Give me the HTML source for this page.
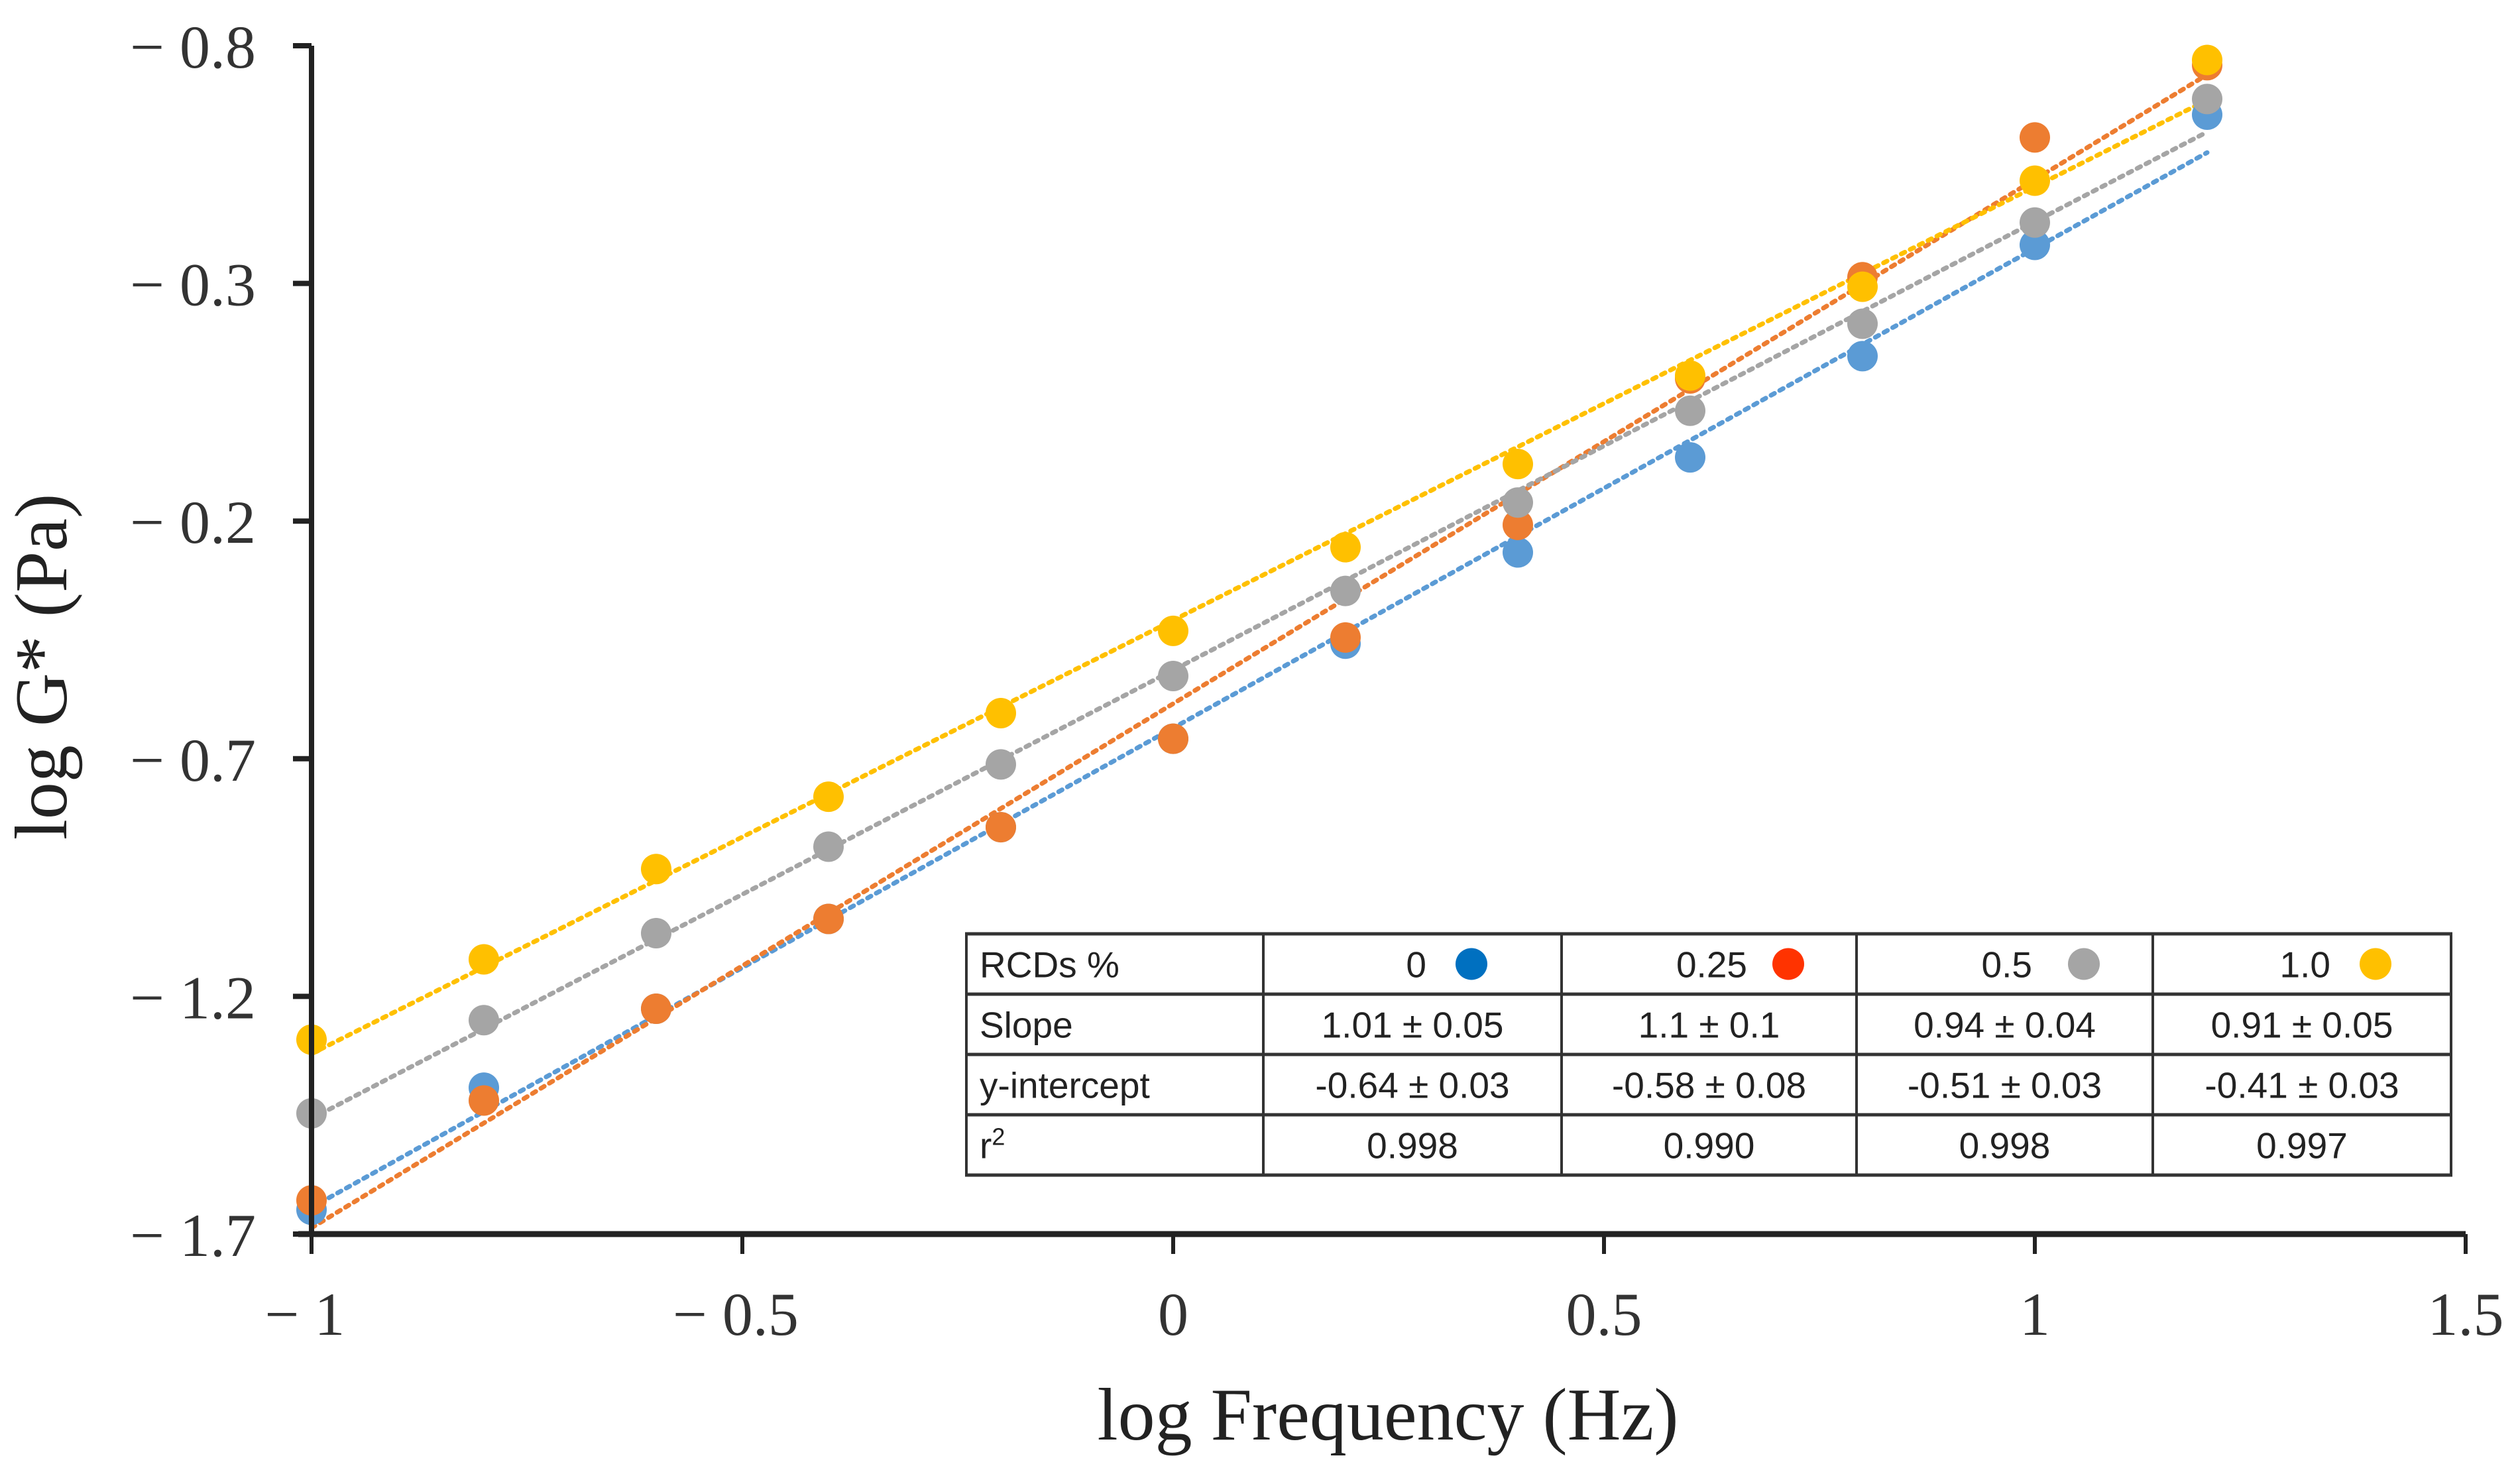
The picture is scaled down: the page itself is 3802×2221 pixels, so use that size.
<!DOCTYPE html>
<html><head><meta charset="utf-8"><style>
html,body{margin:0;padding:0;background:#fff;}
svg{display:block;}
</style></head><body>
<svg id="chart" xmlns="http://www.w3.org/2000/svg" width="3802" height="2221" viewBox="0 0 3802 2221">
<rect width="3802" height="2221" fill="#fff"/>
<g id="lines"></g>
<g id="points"></g>
<g id="axes"></g>
<g id="table"></g>
<text x="2094" y="2172" text-anchor="middle" font-family="Liberation Serif, serif" font-size="112" fill="#222">log Frequency (Hz)</text>
<text transform="translate(100,1006) rotate(-90)" text-anchor="middle" font-family="Liberation Serif, serif" font-size="112" fill="#222">log G* (Pa)</text>
</svg>
<script>
const categories = [-1, -0.8, -0.6, -0.4, -0.2, 0, 0.2, 0.4, 0.6, 0.8, 1.0, 1.2];
const seriesNames = ["0", "0.25", "0.5", "1.0"];
const series0 = [-1.649, -1.392, -1.226, -1.037, -0.844, -0.658, -0.458, -0.266, -0.066, 0.147, 0.381, 0.655];
const series025 = [-1.629, -1.419, -1.226, -1.037, -0.844, -0.658, -0.445, -0.208, 0.100, 0.313, 0.607, 0.759];
const series05 = [-1.446, -1.250, -1.067, -0.885, -0.712, -0.526, -0.347, -0.161, 0.032, 0.215, 0.428, 0.688];
const series10 = [-1.291, -1.122, -0.932, -0.780, -0.604, -0.431, -0.255, -0.080, 0.106, 0.293, 0.516, 0.770];
const xTicks = [-1, -0.5, 0, 0.5, 1, 1.5];
const xTickLabels = ["\u2212 1", "\u2212 0.5", "0", "0.5", "1", "1.5"];
const yTicks = [0.8, 0.3, -0.2, -0.7, -1.2, -1.7];
const yTickLabels = ["\u2212 0.8", "\u2212 0.3", "\u2212 0.2", "\u2212 0.7", "\u2212 1.2", "\u2212 1.7"];
const tableHeader = ["RCDs %", "0", "0.25", "0.5", "1.0"];
const tableSlope = ["Slope", "1.01 \u00b1 0.05", "1.1 \u00b1 0.1", "0.94 \u00b1 0.04", "0.91 \u00b1 0.05"];
const tableIntercept = ["y-intercept", "-0.64 \u00b1 0.03", "-0.58 \u00b1 0.08", "-0.51 \u00b1 0.03", "-0.41 \u00b1 0.03"];
const tableR2 = ["r2", "0.998", "0.990", "0.998", "0.997"];

const NS = "http://www.w3.org/2000/svg";
const X0 = 470, X1 = 3720, XMIN = -1, XMAX = 1.5;
const Y0 = 69, Y1 = 1862, YMAX = 0.8, YMIN = -1.7;
const xs = v => X0 + (v - XMIN) / (XMAX - XMIN) * (X1 - X0);
const ys = v => Y0 + (YMAX - v) / (YMAX - YMIN) * (Y1 - Y0);
function el(tag, attrs, parent) { const e = document.createElementNS(NS, tag); for (const k in attrs) e.setAttribute(k, attrs[k]); parent.appendChild(e); return e; }

const colors = ["#5b9bd5", "#ed7d31", "#a5a5a5", "#ffc000"];
const allSeries = [series0, series025, series05, series10];
const gL = document.getElementById("lines"), gP = document.getElementById("points"), gA = document.getElementById("axes"), gT = document.getElementById("table");

allSeries.forEach((s, i) => {
  const n = s.length; let sx=0, sy=0, sxx=0, sxy=0;
  for (let k=0;k<n;k++){sx+=categories[k];sy+=s[k];sxx+=categories[k]*categories[k];sxy+=categories[k]*s[k];}
  const m = (n*sxy - sx*sy)/(n*sxx - sx*sx), b = (sy - m*sx)/n;
  const xa = categories[0], xb = categories[n-1];
  const ln = el("line", {x1: xs(xa), y1: ys(m*xa+b), x2: xs(xb), y2: ys(m*xb+b), stroke: colors[i], "stroke-width": 7, "stroke-dasharray": "6 9", "stroke-linecap": "round"}, gL);
  
  
});
allSeries.forEach((s, i) => {
  s.forEach((v, k) => {
    const c = el("circle", {cx: xs(categories[k]), cy: ys(v), r: 23, fill: colors[i]}, gP);
    
    
  });
});

const ya = el("line", {x1: X0, y1: Y0, x2: X0, y2: Y1, stroke: "#222", "stroke-width": 8}, gA);


const xa = el("line", {x1: X0 - 20, y1: Y1, x2: X1, y2: Y1, stroke: "#222", "stroke-width": 9}, gA);


yTicks.forEach((v, i) => {
  const t = el("line", {x1: X0 - 28, y1: ys(v), x2: X0, y2: ys(v), stroke: "#222", "stroke-width": 8}, gA);
  
  
  const tx = el("text", {x: 386, y: ys(v) + 33, "text-anchor": "end", "font-family": "Liberation Serif, serif", "font-size": 92, fill: "#333"}, gA);
  tx.textContent = yTickLabels[i];
  
  
});
xTicks.forEach((v, i) => {
  const t = el("line", {x1: xs(v), y1: Y1, x2: xs(v), y2: Y1 + 30, stroke: "#222", "stroke-width": 6}, gA);
  
  
  const tx = el("text", {x: xs(v) + (i < 2 ? -10 : 0), y: 2014, "text-anchor": "middle", "font-family": "Liberation Serif, serif", "font-size": 92, fill: "#333"}, gA);
  tx.textContent = xTickLabels[i];
  
  
});

const colX = [1458, 1906, 2356, 2801, 3248, 3698];
const rowY = [1409, 1500, 1591, 1682, 1773];
const bg = el("rect", {x: colX[0], y: rowY[0], width: colX[5]-colX[0], height: rowY[4]-rowY[0], fill: "#fff"}, gT);


rowY.forEach(y => { const l = el("line", {x1: colX[0]-2, y1: y, x2: colX[5]+2, y2: y, stroke: "#333", "stroke-width": 5}, gT);
  
   });
colX.forEach(x => { const l = el("line", {x1: x, y1: rowY[0], x2: x, y2: rowY[4], stroke: "#333", "stroke-width": 4}, gT);
  
   });
const font = "Liberation Sans, sans-serif", fs = 55;
const headerTextEnd = [2152, 2636, 3066, 3516];
const dotX = [2220, 2698, 3144, 3584];
const legendColors = ["#0070c0", "#ff3300", "#a5a5a5", "#ffc000"];
[tableHeader, tableSlope, tableIntercept, tableR2].forEach((row, r) => {
  const cy = (rowY[r] + rowY[r+1]) / 2, base = cy + 20;
  row.forEach((txt, c) => {
    let t;
    if (c === 0) {
      t = el("text", {x: colX[0] + 20, y: base, "font-family": font, "font-size": fs, fill: "#222"}, gT);
      if (r === 3) { t.textContent = "r"; const sup = el("tspan", {dy: -20, "font-size": 36}, t); sup.textContent = "2"; }
      else t.textContent = txt;
      
    } else if (r === 0) {
      t = el("text", {x: headerTextEnd[c-1], y: base, "text-anchor": "end", "font-family": font, "font-size": fs, fill: "#222"}, gT);
      t.textContent = txt;
      
      const d = el("circle", {cx: dotX[c-1], cy: cy, r: 24, fill: legendColors[c-1]}, gT);
      
      
    } else {
      t = el("text", {x: (colX[c] + colX[c+1]) / 2, y: base, "text-anchor": "middle", "font-family": font, "font-size": fs, fill: "#222"}, gT);
      t.textContent = txt;
      
    }
    
  });
});
</script>
</body></html>
